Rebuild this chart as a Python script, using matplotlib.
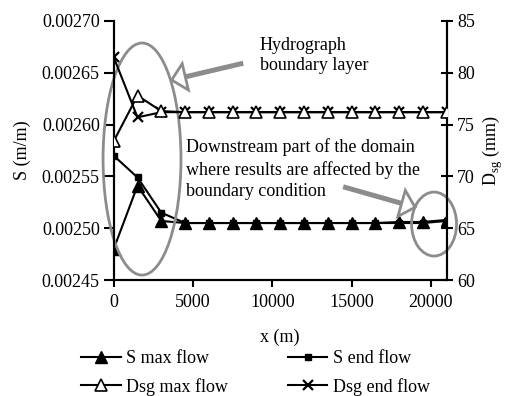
import numpy as np
import matplotlib
matplotlib.use("Agg")
import matplotlib.pyplot as plt
from matplotlib.patches import Ellipse, Polygon
from matplotlib.lines import Line2D
from matplotlib.transforms import IdentityTransform

plt.rcParams['font.family'] = ['Liberation Serif', 'DejaVu Serif']
plt.rcParams['font.size'] = 13

# distance along the channel (m)
x = [0, 1500, 3000, 4500, 6000, 7500, 9000, 10500, 12000, 13500, 15000, 16500, 18000, 19500, 21000]

# bed slope (m/m)
s_max_flow = [0.002480, 0.002541, 0.002507, 0.002505, 0.002505, 0.002505, 0.002505, 0.002505,
              0.002505, 0.002505, 0.002505, 0.002505, 0.002506, 0.002506, 0.002508]
s_end_flow = [0.002570, 0.002549, 0.002515, 0.002505, 0.002505, 0.002505, 0.002505, 0.002505,
              0.002505, 0.002505, 0.002505, 0.002505, 0.002505, 0.002505, 0.002507]

# geometric mean grain size of the surface layer (mm)
dsg_max_flow = [73.4, 77.8, 76.3, 76.2, 76.2, 76.2, 76.2, 76.2, 76.2, 76.2, 76.2, 76.2, 76.2, 76.2, 76.2]
dsg_end_flow = [81.5, 75.7, 76.2, 76.2, 76.2, 76.2, 76.2, 76.2, 76.2, 76.2, 76.2, 76.2, 76.2, 76.2, 76.2]

s_ticks = [0.00245, 0.00250, 0.00255, 0.00260, 0.00265, 0.00270]
d_ticks = [60, 65, 70, 75, 80, 85]
x_ticks = [0, 5000, 10000, 15000, 20000]

fig = plt.figure(figsize=(5.07, 3.96), dpi=100)
ax = fig.add_axes([0.2243, 0.2929, 0.6568, 0.6541])
ax2 = ax.twinx()
ax2.set_position(ax.get_position())

lw = 1.5
l1, = ax.plot(x, s_end_flow, color='black', lw=lw, marker='s', ms=4.5, zorder=3, label='S end flow')
l0, = ax.plot(x, s_max_flow, color='black', lw=lw, marker='^', ms=8, zorder=4, label='S max flow')
l3, = ax2.plot(x, dsg_end_flow, color='black', lw=lw, marker='x', ms=7.5, mew=1.6, zorder=3, label='Dsg end flow')
l2, = ax2.plot(x, dsg_max_flow, color='black', lw=lw, marker='^', ms=8, mfc='white', mew=1.2,
               zorder=4, label='Dsg max flow')

ax.set_xlim(0, 21000)
ax.set_ylim(0.00245, 0.00270)
ax2.set_ylim(60, 85)
ax.set_xticks(x_ticks)
ax.set_yticks(s_ticks)
ax.set_yticklabels([f"{v:.5f}" for v in s_ticks])
ax2.set_yticks(d_ticks)

for a in (ax, ax2):
    a.spines['top'].set_visible(False)
    for sp in a.spines.values():
        sp.set_linewidth(1.5)
ax.tick_params(axis='y', direction='out', length=7, width=1.5, labelsize=13, pad=3)
ax.tick_params(axis='x', direction='out', length=5, width=1.5, labelsize=13, pad=5)
ax2.tick_params(axis='y', direction='inout', length=9, width=1.5, labelsize=13, pad=3)

ax.set_xlabel('x (m)', fontsize=13, labelpad=13)
ax.set_ylabel('S (m/m)', fontsize=13, labelpad=8)
ax2.set_ylabel('D$_{\\mathregular{sg}}$ (mm)', fontsize=13, labelpad=4)

grey = '#8c8c8c'
for cx, cy, w, h in [(0.085, 0.467, 0.234, 0.896), (0.962, 0.216, 0.135, 0.247)]:
    ax.add_patch(Ellipse((cx, cy), w, h, transform=ax.transAxes, fill=False,
                         ec=grey, lw=2, clip_on=False, zorder=6))


def hollow_arrow(tail, tip, head_len=14, head_w=27, shaft=3.6):
    p0 = ax.transAxes.transform(tail)
    p1 = ax.transAxes.transform(tip)
    d = p1 - p0
    u = d / np.hypot(*d)
    n = np.array([-u[1], u[0]])
    base = p1 - u * head_len
    fig.add_artist(Line2D([p0[0], base[0]], [p0[1], base[1]], transform=IdentityTransform(),
                          lw=shaft, color=grey, solid_capstyle='butt', zorder=7))
    fig.add_artist(Polygon([p1, base + n * head_w / 2, base - n * head_w / 2], closed=True,
                           transform=IdentityTransform(), fc='white', ec=grey, lw=2, zorder=8))


hollow_arrow((0.389, 0.837), (0.174, 0.772))
hollow_arrow((0.689, 0.360), (0.905, 0.281))

ax.text(0.439, 0.94, 'Hydrograph\nboundary layer', transform=ax.transAxes,
        ha='left', va='top', fontsize=13, linespacing=1.3, zorder=9)
ax.text(0.218, 0.548, 'Downstream part of the domain\nwhere results are affected by the\nboundary condition',
        transform=ax.transAxes, ha='left', va='top', fontsize=13, linespacing=1.35, zorder=9)

fig.legend([l0, l2, l1, l3], ['S max flow', 'Dsg max flow', 'S end flow', 'Dsg end flow'],
           loc='lower center', bbox_to_anchor=(0.504, -0.04), ncol=2, frameon=False,
           handlelength=2.2, columnspacing=3.3, labelspacing=0.57, handletextpad=0.3, fontsize=13)

fig.savefig('out.png', dpi=100)
